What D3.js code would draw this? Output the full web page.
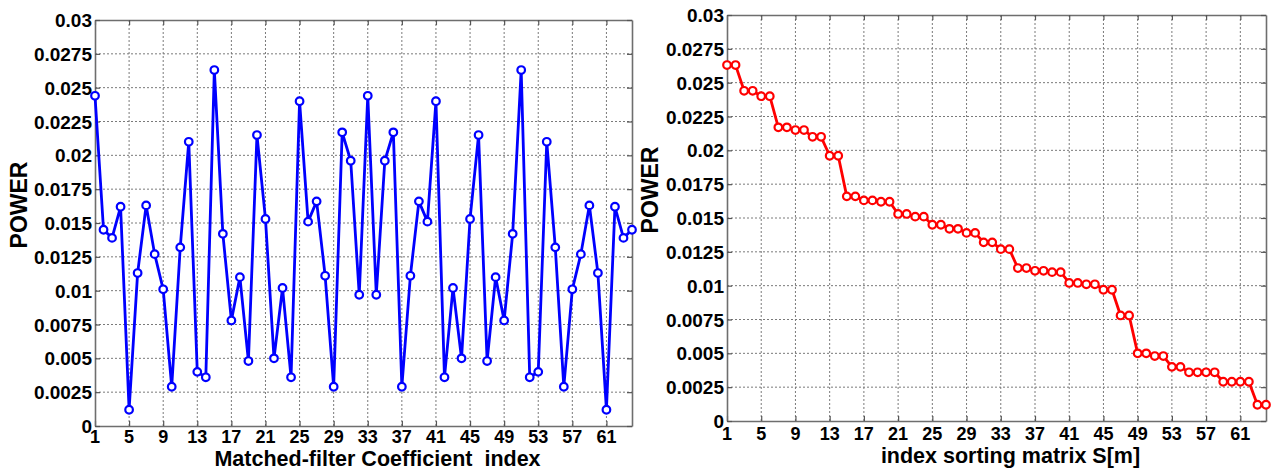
<!DOCTYPE html>
<html>
<head>
<meta charset="utf-8">
<script src="https://cdn.jsdelivr.net/npm/d3@7.9.0/dist/d3.min.js"></script>
<style>
  body { margin: 0; background: #fff; }
  svg { display: block; font-family: "Liberation Sans", Arial, sans-serif; font-weight: bold; }
  .grid line { stroke: #7a7a7a; stroke-width: 1; stroke-dasharray: 2,2; }
  .tick-label { font-size: 19px; fill: #000; }
  .tick-label.x { font-size: 18px; }
  .axis-title { font-size: 23px; fill: #000; }
  .axis-title.x { font-size: 21.5px; }
</style>
</head>
<body>
<svg id="chart" width="1286" height="470"></svg>
<script>
// power of each matched-filter coefficient (index 1..64)
const coeffPower = [
  0.0244, 0.0145, 0.0139, 0.0162, 0.0012, 0.0113, 0.0163, 0.0127,
  0.0101, 0.0029, 0.0132, 0.0210, 0.0040, 0.0036, 0.0263, 0.0142,
  0.0078, 0.0110, 0.0048, 0.0215, 0.0153, 0.0050, 0.0102, 0.0036,
  0.0240, 0.0151, 0.0166, 0.0111, 0.0029, 0.0217, 0.0196, 0.0097,
  0.0244, 0.0097, 0.0196, 0.0217, 0.0029, 0.0111, 0.0166, 0.0151,
  0.0240, 0.0036, 0.0102, 0.0050, 0.0153, 0.0215, 0.0048, 0.0110,
  0.0078, 0.0142, 0.0263, 0.0036, 0.0040, 0.0210, 0.0132, 0.0029,
  0.0101, 0.0127, 0.0163, 0.0113, 0.0012, 0.0162, 0.0139, 0.0145
];

// same powers after sorting (matrix S[m])
const sortedPower = [
  0.0263, 0.0263, 0.0244, 0.0244, 0.0240, 0.0240, 0.0217, 0.0217,
  0.0215, 0.0215, 0.0210, 0.0210, 0.0196, 0.0196, 0.0166, 0.0166,
  0.0163, 0.0163, 0.0162, 0.0162, 0.0153, 0.0153, 0.0151, 0.0151,
  0.0145, 0.0145, 0.0142, 0.0142, 0.0139, 0.0139, 0.0132, 0.0132,
  0.0127, 0.0127, 0.0113, 0.0113, 0.0111, 0.0111, 0.0110, 0.0110,
  0.0102, 0.0102, 0.0101, 0.0101, 0.0097, 0.0097, 0.0078, 0.0078,
  0.0050, 0.0050, 0.0048, 0.0048, 0.0040, 0.0040, 0.0036, 0.0036,
  0.0036, 0.0036, 0.0029, 0.0029, 0.0029, 0.0029, 0.0012, 0.0012
];

const xTicks = d3.range(1, 62, 4);          // 1, 5, ... 61
const yTicks = d3.range(0, 0.0301, 0.0025);
const yTickLabels = ['0', '0.0025', '0.005', '0.0075', '0.01', '0.0125', '0.015',
  '0.0175', '0.02', '0.0225', '0.025', '0.0275', '0.03'];

const svg = d3.select('#chart');

function drawPanel(opts) {
  const { values, color, left, top, right, bottom, xTitle, xTitleShift,
    xTickY, xTitleY, yTitleX, yTitleY } = opts;

  const x = d3.scaleLinear().domain([1, 64]).range([left, right]);
  const y = d3.scaleLinear().domain([0, 0.03]).range([bottom, top]);
  const g = svg.append('g');

  // dotted grid
  const grid = g.append('g').attr('class', 'grid');
  grid.selectAll('.gx')
    .data(xTicks.slice(1))
    .enter()
    .append('line')
    .attr('x1', d => x(d)).attr('x2', d => x(d))
    .attr('y1', top).attr('y2', bottom);
  grid.selectAll('.gy')
    .data(yTicks.slice(1, -1))
    .enter()
    .append('line')
    .attr('x1', left).attr('x2', right)
    .attr('y1', d => y(d)).attr('y2', d => y(d));

  // axes with inward ticks on all four sides
  const tick = 5;
  g.append('g').attr('transform', `translate(0,${bottom})`)
    .call(d3.axisBottom(x).tickValues(xTicks).tickSizeInner(-tick).tickSizeOuter(0).tickFormat(''));
  g.append('g').attr('transform', `translate(0,${top})`)
    .call(d3.axisTop(x).tickValues(xTicks).tickSizeInner(-tick).tickSizeOuter(0).tickFormat(''));
  g.append('g').attr('transform', `translate(${left},0)`)
    .call(d3.axisLeft(y).tickValues(yTicks).tickSizeInner(-tick).tickSizeOuter(0).tickFormat(''));
  g.append('g').attr('transform', `translate(${right},0)`)
    .call(d3.axisRight(y).tickValues(yTicks).tickSizeInner(-tick).tickSizeOuter(0).tickFormat(''));
  g.selectAll('.domain').attr('stroke', '#6e6e6e').attr('stroke-width', 1.6);
  g.selectAll('.tick line').attr('stroke', '#555').attr('stroke-width', 1.2);

  // tick labels
  g.selectAll('.xl')
    .data(xTicks)
    .enter()
    .append('text')
    .attr('class', 'tick-label x')
    .attr('x', d => x(d))
    .attr('y', xTickY)
    .attr('text-anchor', 'middle')
    .text(d => d);
  g.selectAll('.yl')
    .data(yTicks)
    .enter()
    .append('text')
    .attr('class', 'tick-label')
    .attr('x', left - 3)
    .attr('y', d => y(d) + 7)
    .attr('text-anchor', 'end')
    .text((d, i) => yTickLabels[i]);

  // titles
  g.append('text')
    .attr('class', 'axis-title x')
    .attr('x', (left + right) / 2 + xTitleShift)
    .attr('y', xTitleY)
    .attr('text-anchor', 'middle')
    .attr('xml:space', 'preserve')
    .style('white-space', 'pre')
    .text(xTitle);
  g.append('text')
    .attr('class', 'axis-title')
    .attr('transform', `translate(${yTitleX},${yTitleY}) rotate(-90)`)
    .attr('text-anchor', 'middle')
    .text('POWER');

  // data line + open circle markers
  const line = d3.line().x((d, i) => x(i + 1)).y(d => y(d));
  g.append('path')
    .datum(values)
    .attr('d', line)
    .attr('fill', 'none')
    .attr('stroke', color)
    .attr('stroke-width', 2.8)
    .attr('stroke-linejoin', 'round');
  g.selectAll('circle')
    .data(values)
    .enter()
    .append('circle')
    .attr('cx', (d, i) => x(i + 1))
    .attr('cy', d => y(d))
    .attr('r', 3.8)
    .attr('fill', '#fff')
    .attr('stroke', color)
    .attr('stroke-width', 2.2);
}

drawPanel({
  values: coeffPower, color: '#0000ff',
  left: 95, top: 20, right: 632, bottom: 426,
  xTitle: 'Matched-filter Coefficient  index', xTitleShift: 14,
  xTickY: 443, xTitleY: 466,
  yTitleX: 27, yTitleY: 205
});

drawPanel({
  values: sortedPower, color: '#ff0000',
  left: 727, top: 15, right: 1266, bottom: 421,
  xTitle: 'index sorting matrix S[m]', xTitleShift: 14,
  xTickY: 440, xTitleY: 463,
  yTitleX: 658, yTitleY: 190
});
</script>
</body>
</html>
